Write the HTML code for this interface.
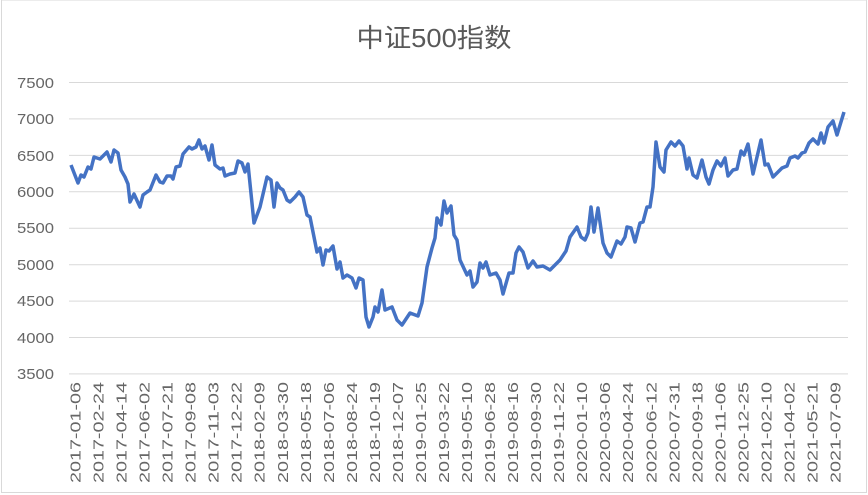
<!DOCTYPE html>
<html><head><meta charset="utf-8"><style>
body{margin:0;background:#fff;}
svg{display:block;font-family:"Liberation Sans","Noto Sans CJK SC",sans-serif;}
</style></head><body>
<svg width="868" height="495" viewBox="0 0 868 495">
<rect x="1.5" y="0" width="865" height="492.5" fill="#fff" stroke="#d9d9d9" stroke-width="1"/>
<text x="434" y="47" text-anchor="middle" font-size="26" fill="#595959" textLength="155" lengthAdjust="spacingAndGlyphs">中证500指数</text>
<g stroke="#d9d9d9" stroke-width="1">
<line x1="69" x2="848" y1="82.5" y2="82.5"/>
<line x1="69" x2="848" y1="118.9" y2="118.9"/>
<line x1="69" x2="848" y1="155.4" y2="155.4"/>
<line x1="69" x2="848" y1="191.8" y2="191.8"/>
<line x1="69" x2="848" y1="228.2" y2="228.2"/>
<line x1="69" x2="848" y1="264.7" y2="264.7"/>
<line x1="69" x2="848" y1="301.1" y2="301.1"/>
<line x1="69" x2="848" y1="337.5" y2="337.5"/>
<line x1="69" x2="848" y1="373.9" y2="373.9"/>
</g>
<g font-size="15" fill="#666" text-anchor="end">
<text x="54" y="88" textLength="37" lengthAdjust="spacingAndGlyphs">7500</text><text x="54" y="124" textLength="37" lengthAdjust="spacingAndGlyphs">7000</text><text x="54" y="161" textLength="37" lengthAdjust="spacingAndGlyphs">6500</text>
<text x="54" y="197" textLength="37" lengthAdjust="spacingAndGlyphs">6000</text><text x="54" y="233" textLength="37" lengthAdjust="spacingAndGlyphs">5500</text><text x="54" y="270" textLength="37" lengthAdjust="spacingAndGlyphs">5000</text>
<text x="54" y="306" textLength="37" lengthAdjust="spacingAndGlyphs">4500</text><text x="54" y="343" textLength="37" lengthAdjust="spacingAndGlyphs">4000</text><text x="54" y="379" textLength="37" lengthAdjust="spacingAndGlyphs">3500</text>
</g>
<polyline fill="none" stroke="#4472c4" stroke-width="3.5" stroke-linejoin="round" points="71,165 78,183 81,175 84,177 88,167 91,169 94,157 100,159 107,152 111,162 114,150 118,153 121,170 125,177 128,184 130,202 134,194 140,207 143,195 147,192 150,190 156,175 160,182 163,183 167,176 171,176 173,179 176,167 180,166 183,154 189,147 192,149 196,147 199,140 202,149 205,146 209,160 212,145 215,165 220,169 223,168 225,176 230,174 235,173 238,161 242,163 245,172 248,164 254,223 260,207 267,177 271,180 274,207 277,183 280,188 283,190 287,200 290,202 295,197 299,192 303,197 307,215 310,217 313,232 317,252 320,248 323,265 326,250 329,251 333,246 337,269 340,262 343,278 347,275 352,278 356,288 359,278 363,280 366,317 369,327 373,317 375,307 378,312 382,290 385,310 392,307 397,320 402,325 410,313 418,316 422,303 427,267 432,248 435,238 437,218 441,225 444,201 447,213 451,206 454,235 457,240 460,260 467,275 470,271 473,287 477,282 480,263 483,268 486,262 490,275 496,273 500,280 503,294 509,273 513,273 516,253 519,247 523,252 528,268 533,261 537,267 543,266 550,270 560,260 566,251 570,237 577,227 581,237 585,240 588,233 591,207 594,232 598,208 603,243 607,253 611,257 617,241 621,244 625,237 627,227 631,228 635,242 640,223 643,222 647,207 650,207 653,187 656,142 660,167 664,172 666,150 671,142 675,146 679,141 683,146 687,169 689,158 693,175 697,178 702,160 706,177 709,184 713,170 717,161 721,166 725,158 728,176 733,170 737,169 741,151 744,155 748,144 753,174 761,140 765,165 768,164 773,177 777,173 782,168 787,166 790,158 795,156 798,158 802,153 805,152 809,143 813,139 818,144 821,133 824,143 828,127 833,121 837,135 844,112"/>
<g font-size="15" fill="#666" text-anchor="end" id="xl"></g>
</svg>
<script>
var d=["2017-01-06","2017-02-24","2017-04-14","2017-06-02","2017-07-21","2017-09-08","2017-11-03","2017-12-22","2018-02-09","2018-03-30","2018-05-18","2018-07-06","2018-08-24","2018-10-19","2018-12-07","2019-01-25","2019-03-22","2019-05-10","2019-06-28","2019-08-16","2019-09-30","2019-11-22","2020-01-10","2020-03-06","2020-04-24","2020-06-12","2020-07-31","2020-09-18","2020-11-06","2020-12-25","2021-02-10","2021-04-02","2021-05-21","2021-07-09"];
var g=document.getElementById("xl"),s="";
for(var i=0;i<d.length;i++){var x=75+i*23.03+5.5;s+='<text transform="translate('+x.toFixed(1)+',382) rotate(-90)" textLength="101" lengthAdjust="spacingAndGlyphs">'+d[i]+'</text>';}
g.innerHTML=s;
</script>
</body></html>
